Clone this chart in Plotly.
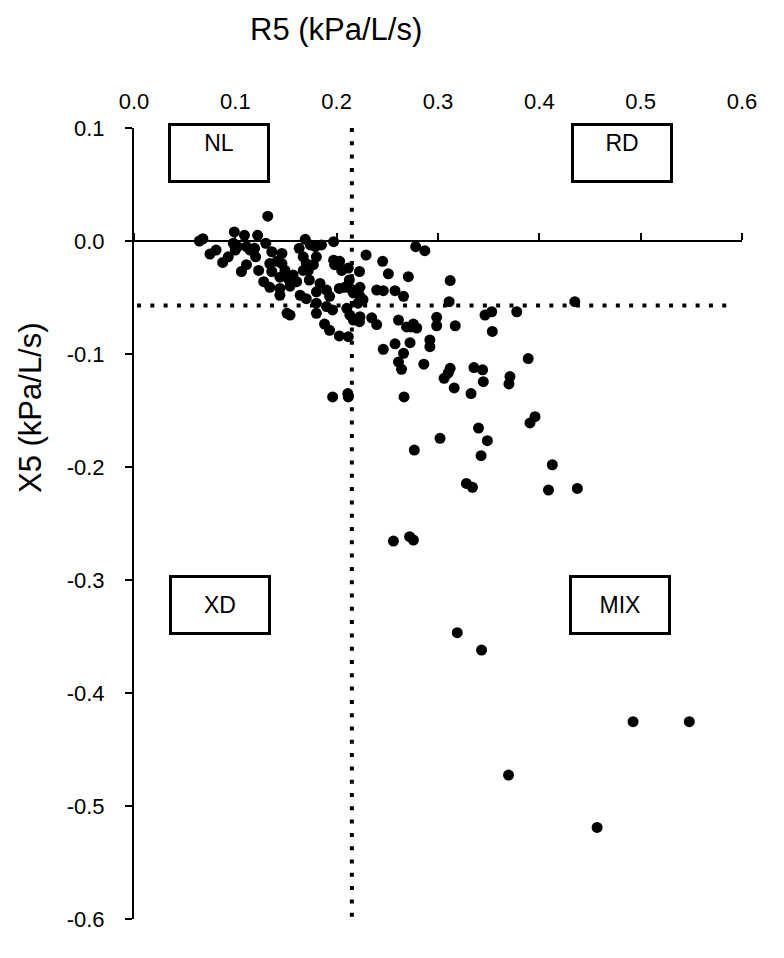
import plotly.graph_objects as go

# ---- data ----
r5 = [0.132, 0.0645, 0.068, 0.099, 0.109, 0.122, 0.130, 0.098, 0.102, 0.100,
      0.111, 0.1145, 0.119, 0.081, 0.075, 0.093, 0.0875, 0.111, 0.106, 0.120,
      0.123, 0.136, 0.146, 0.134, 0.141, 0.146, 0.136, 0.149, 0.144, 0.128,
      0.134, 0.144, 0.144, 0.152, 0.157, 0.1605, 0.154, 0.164, 0.170, 0.163,
      0.169, 0.174, 0.179, 0.185, 0.180, 0.167, 0.170, 0.167, 0.172, 0.177,
      0.173, 0.1836, 0.180, 0.190, 0.193, 0.180, 0.180, 0.190, 0.196, 0.151,
      0.154, 0.188, 0.193, 0.197, 0.197, 0.203, 0.198, 0.205, 0.2115, 0.2125,
      0.2225, 0.2026, 0.208, 0.215, 0.223, 0.2165, 0.223, 0.210, 0.213, 0.2165,
      0.223, 0.2225, 0.226, 0.221, 0.2346, 0.2395, 0.2026, 0.2115, 0.229, 0.2454,
      0.251, 0.2395, 0.246, 0.2576, 0.266, 0.2707, 0.261, 0.269, 0.246, 0.2576,
      0.266, 0.261, 0.264, 0.2724, 0.2757, 0.279, 0.273, 0.2987, 0.2987, 0.292,
      0.292, 0.286, 0.312, 0.310, 0.306, 0.316, 0.312, 0.311, 0.317, 0.2665,
      0.196, 0.211, 0.2115, 0.302, 0.3464, 0.353, 0.3777, 0.435, 0.3536, 0.3355,
      0.344, 0.3447, 0.3326, 0.389, 0.371, 0.370, 0.3957, 0.3908, 0.340, 0.3487,
      0.3425, 0.2766, 0.4128, 0.328, 0.334, 0.409, 0.4375, 0.256, 0.272, 0.2757,
      0.278, 0.287, 0.319, 0.343, 0.4925, 0.548, 0.3696, 0.457]

x5 = [0.022, 0.000, 0.002, 0.008, 0.005, 0.005, -0.002, -0.002, -0.005, -0.008,
      -0.005, -0.008, -0.0065, -0.008, -0.0115, -0.014, -0.019, -0.021, -0.027, -0.014,
      -0.026, -0.0095, -0.011, -0.020, -0.018, -0.020, -0.027, -0.026, -0.032, -0.036,
      -0.041, -0.042, -0.048, -0.033, -0.030, -0.036, -0.040, -0.048, -0.051, -0.0065,
      0.0015, -0.0035, -0.005, -0.0035, -0.014, -0.014, -0.020, -0.026, -0.026, -0.021,
      -0.0345, -0.0375, -0.045, -0.0434, -0.049, -0.055, -0.064, -0.058, -0.061, -0.064,
      -0.0655, -0.0735, -0.079, -0.0006, -0.017, -0.018, -0.021, -0.026, -0.024, -0.0345,
      -0.027, -0.042, -0.041, -0.043, -0.041, -0.046, -0.049, -0.0596, -0.0655, -0.070,
      -0.067, -0.0714, -0.052, -0.055, -0.068, -0.074, -0.084, -0.0847, -0.0124, -0.018,
      -0.029, -0.0434, -0.044, -0.044, -0.049, -0.0316, -0.070, -0.076, -0.0958, -0.091,
      -0.0994, -0.107, -0.1135, -0.090, -0.0735, -0.077, -0.076, -0.0675, -0.075, -0.0876,
      -0.0935, -0.109, -0.1127, -0.117, -0.1215, -0.130, -0.035, -0.0537, -0.075, -0.138,
      -0.138, -0.135, -0.138, -0.1746, -0.0655, -0.0626, -0.0626, -0.0537, -0.080, -0.112,
      -0.114, -0.1245, -0.135, -0.104, -0.120, -0.1265, -0.1555, -0.161, -0.1655, -0.1767,
      -0.190, -0.185, -0.198, -0.2145, -0.218, -0.2204, -0.219, -0.2655, -0.2617, -0.2646,
      -0.005, -0.0086, -0.3466, -0.362, -0.4254, -0.4254, -0.4726, -0.519]

r5_cutoff = 0.215
x5_cutoff = -0.057

x_tick_vals = [0.0, 0.1, 0.2, 0.3, 0.4, 0.5, 0.6]
x_tick_text = ["0.0", "0.1", "0.2", "0.3", "0.4", "0.5", "0.6"]
y_tick_vals = [0.1, 0.0, -0.1, -0.2, -0.3, -0.4, -0.5, -0.6]
y_tick_text = ["0.1", "0.0", "-0.1", "-0.2", "-0.3", "-0.4", "-0.5", "-0.6"]

quadrant_labels = ["NL", "RD", "XD", "MIX"]
quadrant_x = [0.084, 0.482, 0.085, 0.480]
quadrant_y = [0.078, 0.078, -0.322, -0.322]
quadrant_valign = ["top", "top", "middle", "middle"]

x_title = "R5 (kPa/L/s)"
y_title = "X5 (kPa/L/s)"

FONT = "Liberation Sans, Arial, Helvetica, sans-serif"

fig = go.Figure()
fig.add_trace(go.Scatter(
    x=r5, y=x5, mode="markers",
    marker=dict(color="black", size=11, line=dict(width=0)),
    showlegend=False, hoverinfo="x+y",
))
# empty trace so the tick-only axis at y=0 is created
fig.add_trace(go.Scatter(x=[], y=[], xaxis="x2", showlegend=False))

# dotted cut-off lines
fig.add_shape(type="line", xref="x", yref="y",
              x0=r5_cutoff, x1=r5_cutoff, y0=0.1, y1=-0.6,
              line=dict(color="black", width=4, dash="4px,9.3px"))
fig.add_shape(type="line", xref="x", yref="y",
              x0=0.003, x1=0.59, y0=x5_cutoff, y1=x5_cutoff,
              line=dict(color="black", width=4, dash="4px,9.3px"))

for lab, qx, qy, va in zip(quadrant_labels, quadrant_x, quadrant_y, quadrant_valign):
    fig.add_annotation(
        x=qx, y=qy, xref="x", yref="y", text=lab, showarrow=False,
        font=dict(family=FONT, size=23, color="black"),
        width=88, height=46, align="center", valign=va,
        bordercolor="black", borderwidth=3, borderpad=4, bgcolor="white",
    )

fig.add_annotation(x=0.332, y=1, xref="paper", yref="paper", yshift=99,
                   text=x_title, showarrow=False, xanchor="center", yanchor="middle",
                   borderpad=0,
                   font=dict(family=FONT, size=31, color="black"))
fig.add_annotation(x=0, y=1, xref="paper", yref="paper", xshift=-104, yshift=-(408 - 128),
                   text=y_title, showarrow=False, textangle=-90,
                   xanchor="center", yanchor="middle",
                   font=dict(family=FONT, size=31, color="black"))

y0_pos = (0 - (-0.6)) / 0.7

# the page body has an 8px margin, so the figure is offset by 8px
fig.update_layout(
    width=768, height=942,
    margin=dict(l=126, r=34, t=120, b=31),
    paper_bgcolor="white", plot_bgcolor="white",
    font=dict(family=FONT, color="black"),
    xaxis=dict(
        range=[0, 0.6], side="top", tickvals=x_tick_vals, ticktext=x_tick_text,
        ticks="", showline=False, showgrid=False, zeroline=False,
        tickfont=dict(size=22), ticklabelstandoff=14,
    ),
    xaxis2=dict(
        range=[0, 0.6], overlaying="x", matches="x", anchor="free", position=y0_pos,
        side="top", tickvals=x_tick_vals, ticks="outside", ticklen=7, tickwidth=2,
        tickcolor="black", showline=True, linewidth=2, linecolor="black",
        showticklabels=False, showgrid=False, zeroline=False,
    ),
    yaxis=dict(
        range=[-0.6, 0.1], tickvals=y_tick_vals, ticktext=y_tick_text,
        ticks="outside", ticklen=7, tickwidth=2, tickcolor="black",
        showline=True, linewidth=2, linecolor="black",
        showgrid=False, zeroline=False,
        tickfont=dict(size=22), ticklabelstandoff=16,
    ),
)

fig.write_html("out.html")
